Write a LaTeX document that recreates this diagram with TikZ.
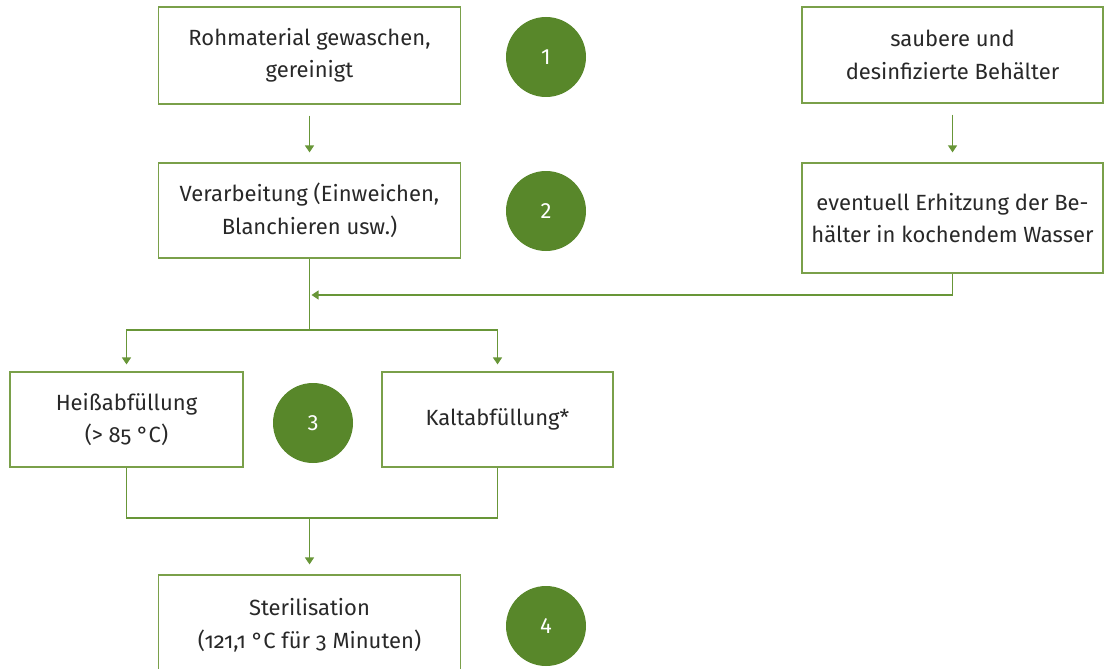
\documentclass[tikz,border=0pt]{standalone}
\usepackage{fontspec}
\setmainfont{Fira Sans}[Numbers=OldStyle]
\usetikzlibrary{arrows.meta,positioning}
\definecolor{boxgreen}{RGB}{122,160,74}
\definecolor{dotgreen}{RGB}{88,135,42}
\definecolor{linegreen}{RGB}{104,150,56}
\definecolor{txtgray}{RGB}{40,40,40}

\begin{document}
\begin{tikzpicture}[x=1pt, y=-1pt,
    stepbox/.style={rectangle, draw=boxgreen, line width=1.2pt, align=center,
        text=txtgray, font=\fontsize{22}{32.5}\selectfont, inner sep=0pt},
    numdot/.style={circle, fill=dotgreen, minimum size=80pt, inner sep=0pt,
        text=white, font=\fontsize{22}{22}\selectfont\addfontfeature{Numbers=Lining}},
    arr/.style={-{Triangle[width=9pt,length=7pt]}, linegreen, line width=1.2pt},
    ln/.style={linegreen, line width=1.2pt}
]
    \useasboundingbox (0,0) rectangle (1104,669);

    % Left column
    \node[stepbox, minimum width=302pt, minimum height=97pt] (wash) at (309.5,55.5)
        {Rohmaterial gewaschen,\\gereinigt};
    \node[stepbox, minimum width=302pt, minimum height=95pt] (proc) at (309.5,210.5)
        {Verarbeitung (Einweichen,\\Blanchieren usw.)};

    % Right column
    \node[stepbox, minimum width=301pt, minimum height=96pt] (clean) at (952.5,55)
        {saubere und\\desinfizierte Behälter};
    \node[stepbox, minimum width=301pt, minimum height=110pt] (heat) at (952.5,218)
        {eventuell Erhitzung der Be-\\hälter in kochendem Wasser};

    % Filling
    \node[stepbox, minimum width=233pt, minimum height=95pt] (hot) at (126.5,419.5)
        {Heißabfüllung\\(> 85 °C)};
    \node[stepbox, minimum width=231pt, minimum height=95pt] (cold) at (497.5,419.5)
        {Kaltabfüllung*};

    % Sterilisation
    \node[stepbox, minimum width=302pt, minimum height=100pt] (steril) at (309.5,625)
        {Sterilisation\\(121,1 °C für 3 Minuten)};

    % Step numbers
    \node[numdot] (n1) at (546,57) {1};
    \node[numdot] (n2) at (546,211) {2};
    \node[numdot] (n3) at (313,423) {3};
    \node[numdot] (n4) at (546,626) {4};

    % Connectors
    \coordinate (join) at (309.5,295);
    \coordinate (split) at (309.5,330);
    \coordinate (merge) at (309.5,518);
    \draw[arr, shorten <=11pt, shorten >=10pt] (wash) -- (proc);
    \draw[arr, shorten <=11pt, shorten >=10pt] (clean) -- (heat);
    \draw[ln] (proc) -- (split);
    \draw[arr, shorten >=2pt] (heat.south) |- (join);
    \draw[arr, shorten >=7pt] (split) -| (hot);
    \draw[arr, shorten >=7pt] (split) -| (cold);
    \draw[ln] (hot) |- (merge) -| (cold);
    \draw[arr, shorten >=10pt] (merge) -- (steril);
\end{tikzpicture}
\end{document}
